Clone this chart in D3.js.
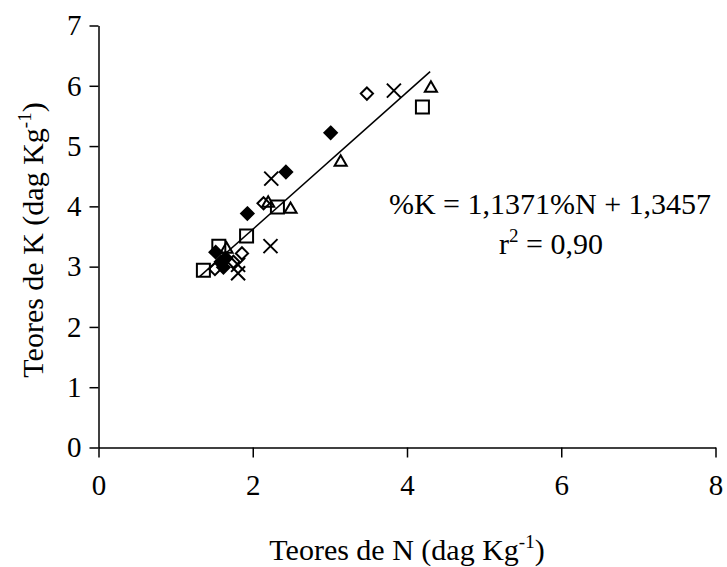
<!DOCTYPE html>
<html>
<head>
<meta charset="utf-8">
<script src="https://cdn.jsdelivr.net/npm/d3@7"></script>
<style>
  body { margin: 0; background: #fff; }
  text { font-family: "Liberation Serif", "Times New Roman", serif; fill: #000; }
  .axis path, .axis line { stroke: #000; stroke-width: 1.5; }
  .axis text { font-size: 29px; font-family: "Liberation Serif", serif; }
</style>
</head>
<body>
<div id="chart"></div>
<script>
// valores (N, K em dag/kg)
var xTicks = [0, 2, 4, 6, 8];
var yTicks = [0, 1, 2, 3, 4, 5, 6, 7];

var serieA_N = [3.01, 2.43, 1.93, 1.52, 1.59, 1.65, 1.62];   // losango cheio
var serieA_K = [5.22, 4.57, 3.88, 3.24, 3.08, 3.14, 2.99];
var serieB_N = [3.48, 2.14, 1.86, 1.75, 1.51];               // losango vazio
var serieB_K = [5.87, 4.05, 3.22, 3.08, 2.96];
var serieC_N = [3.83, 2.24, 2.23, 1.81, 1.81];               // x
var serieC_K = [5.92, 4.46, 3.34, 3.03, 2.89];
var serieD_N = [4.31, 3.14, 2.49, 2.20, 1.66];               // triângulo
var serieD_K = [5.96, 4.73, 3.95, 4.05, 3.29];
var serieE_N = [4.20, 2.32, 1.92, 1.56, 1.36];               // quadrado
var serieE_K = [5.65, 3.99, 3.51, 3.34, 2.94];

// regressão %K = 1,1371%N + 1,3457
var slope = 1.1371, intercept = 1.3457;
var fitRange = [1.31, 4.30];

var margin = {top: 25.5, right: 11.5, bottom: 119.5, left: 98.5};
var width = 727 - margin.left - margin.right;
var height = 567 - margin.top - margin.bottom;

var svg = d3.select("#chart").append("svg")
    .attr("width", 727)
    .attr("height", 567)
  .append("g")
    .attr("transform", "translate(" + margin.left + "," + margin.top + ")");

var x = d3.scaleLinear().domain([0, 8]).range([0, width]);
var y = d3.scaleLinear().domain([0, 7]).range([height, 0]);

svg.append("g")
    .attr("class", "axis x")
    .attr("transform", "translate(0," + height + ")")
    .call(d3.axisBottom(x).tickValues(xTicks).tickFormat(d3.format("d"))
      .tickSize(10).tickPadding(17).tickSizeOuter(0));

svg.append("g")
    .attr("class", "axis y")
    .call(d3.axisLeft(y).tickValues(yTicks).tickFormat(d3.format("d"))
      .tickSize(9).tickPadding(8).tickSizeOuter(0));

// linha de tendência
svg.append("line")
    .attr("x1", x(fitRange[0])).attr("y1", y(slope * fitRange[0] + intercept))
    .attr("x2", x(fitRange[1])).attr("y2", y(slope * fitRange[1] + intercept))
    .attr("stroke", "#000").attr("stroke-width", 1.5);

function pts(xs, ys) { return xs.map(function(v, i) { return [v, ys[i]]; }); }

var series = [
  {data: pts(serieB_N, serieB_K), type: d3.symbolDiamond2, size: 95, fill: "none"},
  {data: pts(serieC_N, serieC_K), type: d3.symbolTimes, size: 130, fill: "none"},
  {data: pts(serieD_N, serieD_K), type: d3.symbolTriangle2, size: 105, fill: "none"},
  {data: pts(serieE_N, serieE_K), type: d3.symbolSquare2, size: 215, fill: "none"},
  {data: pts(serieA_N, serieA_K), type: d3.symbolDiamond2, size: 100, fill: "#000"}
];

series.forEach(function(s) {
  svg.append("g").selectAll("path")
    .data(s.data)
    .enter().append("path")
      .attr("transform", function(d) { return "translate(" + x(d[0]) + "," + y(d[1]) + ")"; })
      .attr("d", d3.symbol().type(s.type).size(s.size))
      .attr("fill", s.fill)
      .attr("stroke", "#000")
      .attr("stroke-width", 2);
});

// equação
svg.append("text")
    .attr("x", 550 - margin.left).attr("y", 214 - margin.top)
    .attr("text-anchor", "middle")
    .style("font-size", "30px")
    .text("%K = 1,1371%N + 1,3457");

var r2 = svg.append("text")
    .attr("x", 551 - margin.left).attr("y", 254 - margin.top)
    .attr("text-anchor", "middle")
    .style("font-size", "30px");
r2.append("tspan").text("r");
r2.append("tspan").attr("dy", -12).style("font-size", "19px").text("2");
r2.append("tspan").attr("dy", 12).text(" = 0,90");

// títulos dos eixos
var xt = svg.append("text")
    .attr("x", width / 2).attr("y", 560 - margin.top)
    .attr("text-anchor", "middle")
    .style("font-size", "30px");
xt.append("tspan").text("Teores de N (dag Kg");
xt.append("tspan").attr("dy", -12).style("font-size", "19px").text("-1");
xt.append("tspan").attr("dy", 12).text(")");

var yt = svg.append("text")
    .attr("transform", "translate(" + (43 - margin.left) + "," + (240 - margin.top) + ") rotate(-90)")
    .attr("text-anchor", "middle")
    .style("font-size", "30px");
yt.append("tspan").text("Teores de K (dag Kg");
yt.append("tspan").attr("dy", -12).style("font-size", "19px").text("-1");
yt.append("tspan").attr("dy", 12).text(")");
</script>
</body>
</html>
